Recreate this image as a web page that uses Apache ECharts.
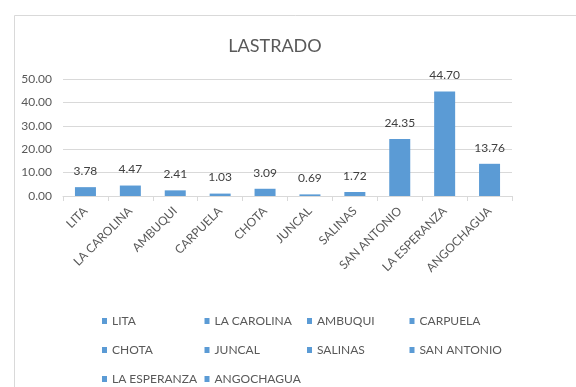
<!DOCTYPE html>
<html>
<head>
<meta charset="utf-8">
<script src="https://cdn.jsdelivr.net/npm/echarts@6/dist/echarts.min.js"></script>
<style>
  html, body { margin: 0; padding: 0; background: #fff; }
  #chart { width: 576px; height: 387px; }
</style>
</head>
<body>
<div id="chart"></div>
<script>
// Lastrado por sector
const categories = ['LITA', 'LA CAROLINA', 'AMBUQUI', 'CARPUELA', 'CHOTA', 'JUNCAL', 'SALINAS', 'SAN ANTONIO', 'LA ESPERANZA', 'ANGOCHAGUA'];
const values = [3.78, 4.47, 2.41, 1.03, 3.09, 0.69, 1.72, 24.35, 44.70, 13.76];
const yTicks = [0, 10, 20, 30, 40, 50];
const title = 'LASTRADO';

const FONT = 'Lato';
const BAR = '#5b9bd5';

// One series per category so every category gets its own legend entry;
// stacking keeps each bar centred on its category.
const series = categories.map((name, i) => ({
  name: name,
  type: 'bar',
  stack: 'all',
  barWidth: 21,
  itemStyle: { color: BAR },
  data: categories.map((_, j) => (j === i ? values[i] : '-')),
  label: {
    show: true,
    position: 'top',
    distance: 10,
    color: '#404040',
    fontFamily: FONT,
    fontSize: 12,
    formatter: p => Number(p.value).toFixed(2)
  }
}));

// Legend laid out in four fixed columns
const legends = categories.map((name, i) => ({
  data: [name],
  left: 97 + (i % 4) * 102.5,
  top: 310 + Math.floor(i / 4) * 29,
  itemWidth: 5,
  itemHeight: 6,
  itemGap: 5,
  icon: 'rect',
  selectedMode: false,
  textStyle: { color: '#595959', fontFamily: FONT, fontSize: 12 }
}));

const chart = echarts.init(document.getElementById('chart'), null, { renderer: 'canvas' });
chart.setOption({
  animation: false,
  backgroundColor: '#fff',
  graphic: [{
    type: 'rect',
    left: 12, top: 13,
    shape: { width: 600, height: 400 },
    style: { fill: 'none', stroke: '#d9d9d9', lineWidth: 1 },
    z: -1
  }],
  title: {
    text: title,
    left: 270,
    textAlign: 'center',
    top: 32,
    textStyle: { color: '#595959', fontFamily: FONT, fontSize: 18, fontWeight: 'normal' }
  },
  legend: legends,
  grid: { left: 63, right: 64, top: 79, bottom: 191 },
  xAxis: {
    type: 'category',
    data: categories,
    boundaryGap: true,
    axisLine: { lineStyle: { color: '#d9d9d9' } },
    axisTick: { show: true, length: 5, lineStyle: { color: '#d9d9d9' } },
    axisLabel: {
      interval: 0,
      rotate: 45,
      color: '#595959',
      fontFamily: FONT,
      fontSize: 12,
      margin: 13
    }
  },
  yAxis: {
    type: 'value',
    min: yTicks[0],
    max: yTicks[yTicks.length - 1],
    interval: yTicks[1] - yTicks[0],
    axisLine: { show: false },
    axisTick: { show: false },
    splitLine: { lineStyle: { color: '#d9d9d9' } },
    axisLabel: {
      color: '#595959',
      fontFamily: FONT,
      fontSize: 12,
      margin: 11,
      formatter: v => v.toFixed(2)
    }
  },
  series: series
});
</script>
</body>
</html>
